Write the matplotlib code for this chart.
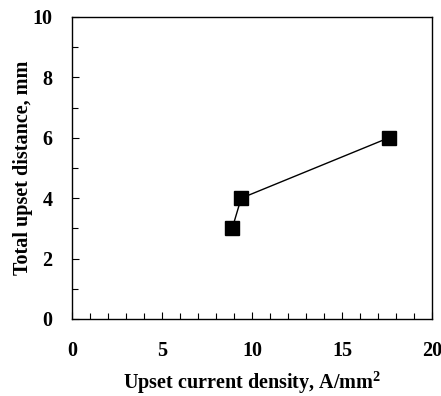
import numpy as np
import matplotlib.pyplot as plt
from matplotlib.ticker import MultipleLocator

# Datos
current_density = [8.9, 9.4, 17.6]
upset_distance = [3.0, 4.0, 6.0]

plt.rcParams['font.family'] = ['Liberation Serif', 'DejaVu Serif']
plt.rcParams['mathtext.fontset'] = 'custom'
plt.rcParams['mathtext.rm'] = 'Liberation Serif:bold'

fig = plt.figure(figsize=(4.41, 3.96), dpi=100)
ax = fig.add_axes([72 / 441, 1 - 319 / 396, 360 / 441, 302 / 396])

ax.plot(current_density, upset_distance, color='black', linewidth=1.0,
        marker='s', markersize=10, markerfacecolor='black', markeredgecolor='black')

ax.set_xlim(0, 20)
ax.set_ylim(0, 10)
ax.xaxis.set_major_locator(MultipleLocator(5))
ax.xaxis.set_minor_locator(MultipleLocator(1))
ax.yaxis.set_major_locator(MultipleLocator(2))
ax.yaxis.set_minor_locator(MultipleLocator(1))
ax.tick_params(which='both', direction='in', top=False, right=False)
ax.tick_params(which='major', length=5, width=0.8)
ax.tick_params(which='minor', length=4, width=0.8)
ax.tick_params(axis='x', which='major', pad=16, labelsize=14.5)
ax.tick_params(axis='y', which='major', pad=14, labelsize=14.5)
for lab in ax.get_xticklabels() + ax.get_yticklabels():
    lab.set_fontweight('bold')
for sp in ax.spines.values():
    sp.set_linewidth(1.0)

ax.set_xlabel('Upset current density, A/mm$^\\mathrm{2}$', fontsize=14.5, fontweight='bold', labelpad=6)
ax.set_ylabel('Total upset distance, mm', fontsize=14.5, fontweight='bold', labelpad=0)

fig.savefig('out.png', dpi=100)
